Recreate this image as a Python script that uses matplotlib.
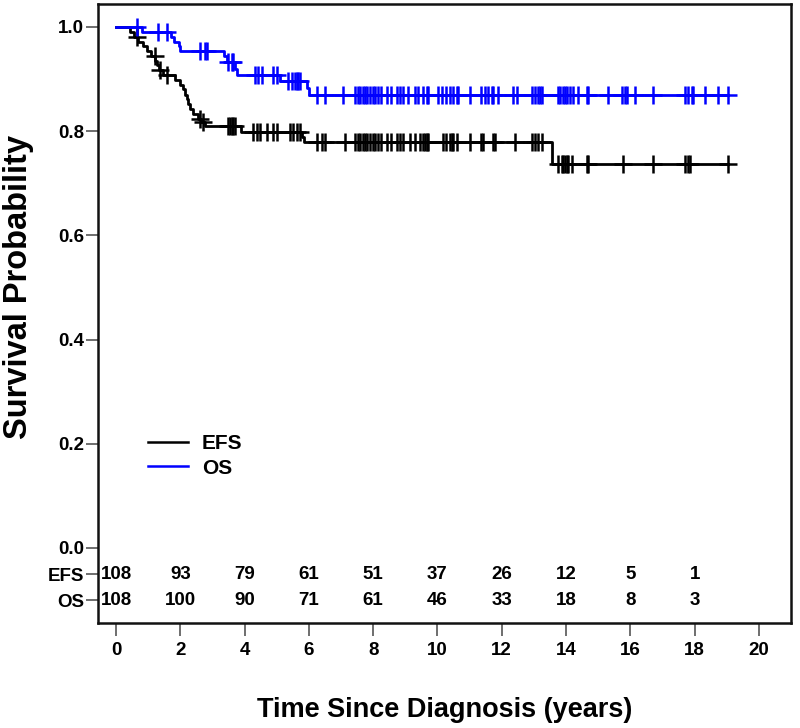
import numpy as np
import matplotlib
matplotlib.use("Agg")
import matplotlib.pyplot as plt

plt.rcParams['font.family'] = ['Liberation Sans', 'DejaVu Sans']
plt.rcParams['font.weight'] = 'bold'

# ---------------- data ----------------
efs_event_times = [0.44, 0.55, 0.68, 0.85, 0.95, 1.10, 1.22, 1.28, 1.33, 1.45,
                   1.85, 1.98, 2.08, 2.15, 2.20, 2.25, 2.30, 2.40, 2.55, 2.65,
                   2.77, 3.90, 5.80, 5.85, 13.55]
efs_surv = [0.991, 0.981, 0.972, 0.963, 0.954, 0.945, 0.935, 0.926, 0.917, 0.908,
            0.898, 0.889, 0.880, 0.870, 0.861, 0.852, 0.843, 0.833, 0.824, 0.818,
            0.809, 0.799, 0.789, 0.780, 0.736]
efs_censor = [0.64, 1.21, 1.37, 1.58, 2.61, 2.72, 3.49, 3.55, 3.60, 3.65, 3.70,
              4.27, 4.38, 4.48, 4.69, 4.89, 5.00, 5.41, 5.52, 5.62, 5.72,
              6.24, 6.40, 6.50, 7.12, 7.45, 7.52, 7.60, 7.68, 7.75, 7.82, 7.90,
              7.98, 8.05, 8.15, 8.25, 8.42, 8.57, 8.73, 8.83, 8.94, 9.14, 9.30,
              9.45, 9.56, 9.61, 9.66, 9.71, 10.18, 10.28, 10.39, 10.44, 10.49,
              10.60, 11.01, 11.37, 11.42, 11.74, 11.79, 12.41, 12.93, 13.03,
              13.14, 13.24, 13.76, 13.87, 13.92, 13.97, 14.02, 14.07, 14.18,
              14.64, 14.69, 15.78, 16.71, 17.70, 17.80, 17.85, 19.05]

os_event_times = [0.82, 1.70, 1.80, 1.95, 2.00, 3.35, 3.45, 3.70, 3.75, 5.10, 5.95, 6.00]
os_surv = [0.991, 0.981, 0.972, 0.963, 0.954, 0.944, 0.932, 0.920, 0.908, 0.896, 0.883, 0.870]
os_censor = [0.64, 1.31, 1.58, 2.61, 2.77, 2.82, 3.49, 3.60, 3.65, 4.32, 4.43, 4.53,
             4.89, 5.00, 5.36, 5.46, 5.57, 5.62, 5.67, 5.72, 6.24, 6.50, 7.07,
             7.45, 7.52, 7.60, 7.68, 7.75, 7.82, 7.90, 7.98, 8.05, 8.15, 8.25,
             8.42, 8.57, 8.73, 8.83, 8.94, 9.09, 9.30, 9.40, 9.56, 9.66, 9.71,
             10.02, 10.13, 10.28, 10.39, 10.49, 10.60, 10.65, 11.01, 11.37,
             11.48, 11.58, 11.69, 11.74, 11.89, 12.36, 12.46, 12.93, 13.03,
             13.14, 13.19, 13.24, 13.76, 13.81, 13.92, 13.97, 14.02, 14.12,
             14.23, 14.38, 14.64, 14.69, 15.32, 15.73, 15.83, 15.89, 16.15,
             16.71, 17.70, 17.80, 17.91, 17.96, 18.32, 18.74, 19.05]

risk_times = [0, 2, 4, 6, 8, 10, 12, 14, 16, 18]
efs_at_risk = [108, 93, 79, 61, 51, 37, 26, 12, 5, 1]
os_at_risk = [108, 100, 90, 71, 61, 46, 33, 18, 8, 3]

x_ticks = [0, 2, 4, 6, 8, 10, 12, 14, 16, 18, 20]
y_ticks = [0.0, 0.2, 0.4, 0.6, 0.8, 1.0]
# ------------------------------------------------------------

end_time = 19.05


def step_xy(times, surv, t_end):
    xs = [0.0] + list(times) + [t_end]
    ys = [1.0] + list(surv) + [surv[-1]]
    return np.array(xs), np.array(ys)


def surv_at(times, surv, t):
    s = 1.0
    for ti, si in zip(times, surv):
        if ti <= t:
            s = si
    return s


fig = plt.figure(figsize=(8.0, 7.28), dpi=100)
ax = fig.add_axes([98 / 800, 1 - 623 / 728, (791 - 98) / 800, (623 - 4) / 728])

for times, surv, cens, col in [(efs_event_times, efs_surv, efs_censor, 'black'),
                               (os_event_times, os_surv, os_censor, '#0000FF')]:
    xs, ys = step_xy(times, surv, end_time)
    ax.step(xs, ys, where='post', color=col, lw=2.0, zorder=3)
    cy = [surv_at(times, surv, c) for c in cens]
    ax.plot(cens, cy, ls='none', marker='+', ms=12.5, mew=1.8, color=col, zorder=4)

# number at risk rows
row_y = {'EFS': -0.05, 'OS': -0.10}
for t, n in zip(risk_times, efs_at_risk):
    ax.text(t, row_y['EFS'], str(n), ha='center', va='center', fontsize=13.5,
            fontweight='bold')
for t, n in zip(risk_times, os_at_risk):
    ax.text(t, row_y['OS'], str(n), ha='center', va='center', fontsize=13.5,
            fontweight='bold')

ax.set_xlim(-0.56, 21.0)
ax.set_ylim(-0.144, 1.044)

ax.set_xticks(x_ticks)
ax.set_xticklabels([str(v) for v in x_ticks])
ax.set_yticks(y_ticks + [row_y['EFS'], row_y['OS']])
ax.set_yticklabels([f"{v:.1f}" for v in y_ticks] + ['EFS', 'OS'])

ax.tick_params(axis='both', direction='out', length=9, width=1.2, color='#555555',
               labelsize=13.5, pad=1)
ax.tick_params(axis='x', pad=5)
for lab in ax.get_xticklabels() + ax.get_yticklabels():
    lab.set_fontweight('bold')

for sp in ax.spines.values():
    sp.set_linewidth(1.8)
    sp.set_color('#111111')

ax.set_ylabel('Survival Probability', fontsize=23.5, fontweight='bold')
ax.yaxis.set_label_coords(-0.093, (0.5 + 0.144) / 1.188)
ax.set_xlabel('Time Since Diagnosis (years)', fontsize=19.5, fontweight='bold', labelpad=27)

# legend
ax.plot([], [], color='black', lw=1.8, label='EFS')
ax.plot([], [], color='#0000FF', lw=1.8, label='OS')
leg = ax.legend(loc='upper left', bbox_to_anchor=(0.045, 0.335), frameon=False,
                fontsize=15, handlelength=1.9, handletextpad=0.7, labelspacing=0.25)
for txt in leg.get_texts():
    txt.set_fontweight('bold')

fig.savefig('out.png', dpi=100)
